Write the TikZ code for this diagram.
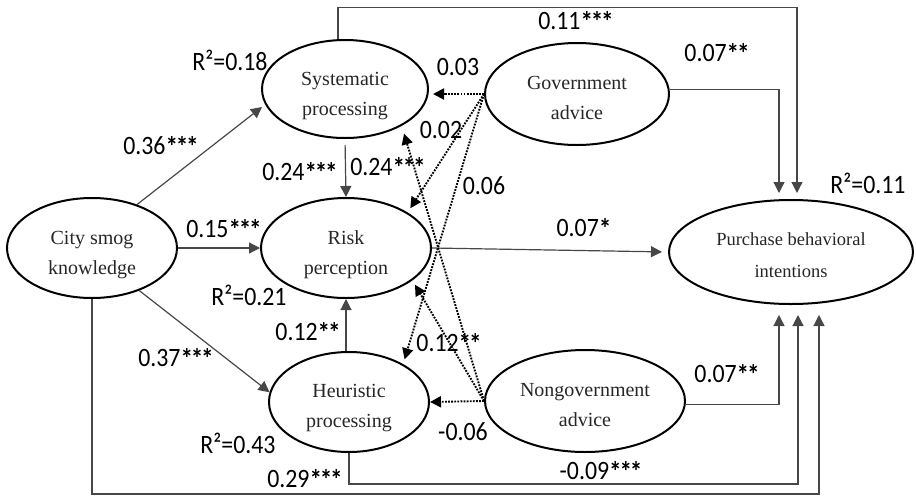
\documentclass[tikz,border=0pt]{standalone}
\usepackage{fontspec}
\setmainfont{Liberation Serif}
\newfontfamily\lblfont[FakeStretch=0.9]{Carlito}
\newfontfamily\astfont[FakeStretch=0.9,LetterSpace=-8]{Carlito Bold}
\usetikzlibrary{shapes.geometric,arrows.meta}
\newcommand\topstrut[1]{\rule{0pt}{#1}}
\newcommand\botstrut{\rule[-5pt]{0pt}{5pt}}
\newcommand\sg[1]{\raisebox{-2pt}{\astfont\fontsize{28}{28}\selectfont #1}}
\begin{document}
\begin{tikzpicture}[x=1pt,y=-1pt,
  var/.style={ellipse,draw=black,line width=2pt,inner sep=0pt,align=center,
    font=\fontsize{20}{30}\selectfont,text=black!85},
  conn/.style={draw=black!72,line width=1.2pt,-{Triangle[length=11pt,width=11pt]}},
  dconn/.style={draw=black,line width=1.9pt,dash pattern=on 1.8pt off 1.3pt,
    -{Triangle[length=11pt,width=11pt]}},
  lbl/.style={font=\lblfont\fontsize{26.5}{28}\selectfont,inner sep=0pt}
]
\useasboundingbox (0,0) rectangle (916,496);
% variables
\node[var,minimum width=170pt,minimum height=100pt] (csk) at (92,248) {\topstrut{27pt}City smog\\knowledge\botstrut};
\node[var,minimum width=166pt,minimum height=98pt] (sys) at (345,89) {\topstrut{27pt}Systematic\\processing\botstrut};
\node[var,minimum width=170pt,minimum height=100pt] (risk) at (346,248) {\topstrut{27pt}Risk\\perception\botstrut};
\node[var,minimum width=160pt,minimum height=100pt] (heur) at (349,402) {\topstrut{25pt}Heuristic\\processing\botstrut};
\node[var,minimum width=184pt,minimum height=102pt] (gov) at (577,94) {\topstrut{25pt}Government\\advice\botstrut};
\node[var,minimum width=200pt,minimum height=102pt] (ngov) at (585,401) {\topstrut{25pt}Nongovernment\\advice\botstrut};
\node[var,minimum width=244pt,minimum height=104pt,font=\fontsize{18.5}{32}\selectfont] (pbi) at (791,252) {\topstrut{23pt}Purchase behavioral\\intentions\botstrut};
% free ends of connectors
\coordinate (pt1) at (779,193);
\coordinate (pt2) at (797,193);
\coordinate (pb1) at (779,315);
\coordinate (pb2) at (798,315);
\coordinate (pb3) at (819,315);
% solid paths
\draw[conn,shorten >=4pt] (csk.44) -- (sys.191);
\draw[conn] (csk.east) -- (risk.west);
\draw[conn] (csk.-42) -- (heur.173);
\draw[conn,shorten >=6pt] (risk.east) -- (pbi.west);
\draw[conn,shorten <=6pt] (sys.south) -- (risk.north);
\draw[conn] (risk.south |- heur.north) -- (risk.south);
\draw[conn] (gov.3) -| (pt1);
\draw[conn] (sys.98) -- ++(0,-32) -| (pt2);
\draw[conn] (ngov.-2) -| (pb1);
\draw[conn] (heur.south) -- ++(0,31) -| (pb2);
\draw[conn] (csk.south) -- ++(0,195) -| (pb3);
% dotted paths
\draw[dconn,shorten >=4pt] (gov.west) -- (sys.east |- gov.west);
\draw[dconn,shorten >=5pt] (gov.west) -- (risk.30);
\draw[dconn,shorten >=5pt] (gov.west) -- (heur.35);
\draw[dconn,shorten >=8pt] (ngov.west) -- (sys.-33);
\draw[dconn,shorten >=5pt] (ngov.west) -- (risk.-26);
\draw[dconn] (ngov.west) -- (heur.east);
% labels
\node[lbl] (l1) at (161,146) {0.36\sg{***}};
\node[lbl] (l2) at (224,229) {0.15\sg{***}};
\node[lbl] (l3) at (176,358) {0.37\sg{***}};
\node[lbl] (l4) at (230,60) {R²=0.18};
\node[lbl] (l5) at (249,295) {R²=0.21};
\node[lbl] (l6) at (238,443) {R²=0.43};
\node[lbl] (l7) at (300,172) {0.24\sg{***}};
\node[lbl] (l8) at (388,167) {0.24\sg{***}};
\node[lbl] (l9) at (458,67) {0.03};
\node[lbl] (l10) at (441,130) {0.02};
\node[lbl] (l11) at (484,186) {0.06};
\node[lbl] (l12) at (308,332) {0.12\sg{**}};
\node[lbl] (l13) at (449,343) {0.12\sg{**}};
\node[lbl] (l14) at (463,432) {-0.06};
\node[lbl] (l15) at (305,479) {0.29\sg{***}};
\node[lbl] (l16) at (601,471) {-0.09\sg{***}};
\node[lbl] (l17) at (727,374) {0.07\sg{**}};
\node[lbl] (l18) at (717,53) {0.07\sg{**}};
\node[lbl] (l19) at (576,21) {0.11\sg{***}};
\node[lbl] (l20) at (868,183) {R²=0.11};
\node[lbl] (l21) at (584,228) {0.07\sg{*}};
\end{tikzpicture}
\end{document}
